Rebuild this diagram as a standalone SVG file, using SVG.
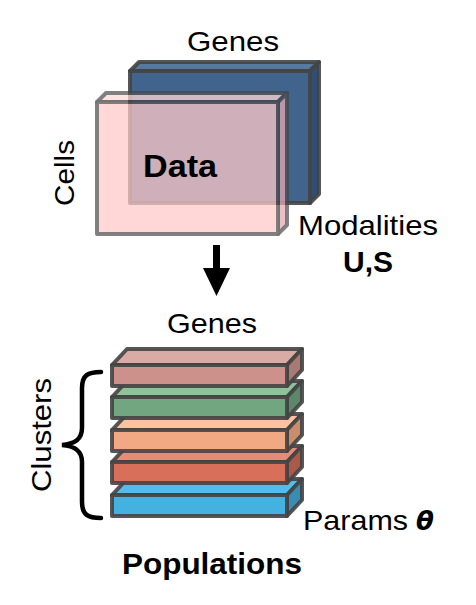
<svg xmlns="http://www.w3.org/2000/svg" width="476" height="605" viewBox="0 0 476 605">
<style>
.t{font-family:"Liberation Sans",Arial,Helvetica,sans-serif;fill:#000}
.b{font-weight:bold}
.box{stroke:#444;stroke-opacity:0.9;stroke-width:4;stroke-linejoin:round}
</style>
<rect width="476" height="605" fill="#fff"/>
<g id="data-block">
  <g id="modality-S">
    <polygon class="box" points="130,71 139,62 319,62 310,71" fill="#56799f"/>
    <polygon class="box" points="310,71 319,62 319,194 310,203" fill="#2f5075"/>
    <rect class="box" x="130" y="71" width="180" height="132" fill="#41648c"/>
  </g>
  <g id="modality-U" opacity="0.74">
    <polygon class="box" points="97,102 106,93 287,93 278,102" fill="#ffd9d9"/>
    <polygon class="box" points="278,102 287,93 287,225 278,234" fill="#e4a9b1"/>
    <rect class="box" x="97" y="102" width="181" height="132" fill="#ffcaca"/>
  </g>
  <text class="t b" x="143" y="177" font-size="32" textLength="74" lengthAdjust="spacingAndGlyphs">Data</text>
</g>
<g id="labels-top">
  <text class="t" x="187" y="51" font-size="28" textLength="92" lengthAdjust="spacingAndGlyphs">Genes</text>
  <text class="t" transform="translate(74,206) rotate(-90)" x="0" y="0" font-size="27" textLength="66" lengthAdjust="spacingAndGlyphs">Cells</text>
  <text class="t" x="298" y="235" font-size="28" textLength="140" lengthAdjust="spacingAndGlyphs">Modalities</text>
  <text class="t b" x="343" y="272" font-size="30" textLength="50" lengthAdjust="spacingAndGlyphs">U,S</text>
</g>
<g id="connectors">
  <line x1="216.5" y1="245" x2="216.5" y2="270" stroke="#000" stroke-width="7"/>
  <polygon points="203,268 230,268 216.5,296" fill="#000"/>
</g>
<g id="populations">
  <g id="cluster-5">
    <polygon class="box" points="112,495 127,479 302,479 287,495" fill="#52bde8"/>
    <polygon class="box" points="287,495 302,479 302,500 287,516" fill="#398db5"/>
    <rect class="box" x="112" y="495" width="175" height="21" fill="#44b1e0"/>
  </g>
  <g id="cluster-4">
    <polygon class="box" points="112,462 127,446 302,446 287,462" fill="#e48b7a"/>
    <polygon class="box" points="287,462 302,446 302,467 287,483" fill="#ab5a4a"/>
    <rect class="box" x="112" y="462" width="175" height="21" fill="#d76f5a"/>
  </g>
  <g id="cluster-3">
    <polygon class="box" points="112,430 127,414 302,414 287,430" fill="#f9c2a0"/>
    <polygon class="box" points="287,430 302,414 302,435 287,451" fill="#c98d6e"/>
    <rect class="box" x="112" y="430" width="175" height="21" fill="#f1a984"/>
  </g>
  <g id="cluster-2">
    <polygon class="box" points="112,397 127,381 302,381 287,397" fill="#8fc299"/>
    <polygon class="box" points="287,397 302,381 302,402 287,418" fill="#5a8868"/>
    <rect class="box" x="112" y="397" width="175" height="21" fill="#72a680"/>
  </g>
  <g id="cluster-1">
    <polygon class="box" points="112,365 127,349 302,349 287,365" fill="#d9aba5"/>
    <polygon class="box" points="287,365 302,349 302,370 287,386" fill="#a97a74"/>
    <rect class="box" x="112" y="365" width="175" height="21" fill="#cc918b"/>
  </g>
</g>
<g id="brace">
  <path d="M101,372 C88,372 82,375 82,388 L82,428 C82,440 74,444 62,445 C74,446 82,450 82,462 L82,502 C82,515 88,518 101,518" fill="none" stroke="#000" stroke-width="4.5" stroke-linecap="round"/>
</g>
<g id="labels-bottom">
  <text class="t" x="167" y="333" font-size="28" textLength="90" lengthAdjust="spacingAndGlyphs">Genes</text>
  <text class="t" transform="translate(51,492) rotate(-90)" x="0" y="0" font-size="28" textLength="114" lengthAdjust="spacingAndGlyphs">Clusters</text>
  <text class="t" x="303" y="530" font-size="28" textLength="105" lengthAdjust="spacingAndGlyphs">Params</text>
  <text x="416" y="530" font-size="26" font-family="'DejaVu Sans',sans-serif" font-weight="bold" font-style="italic">θ</text>
  <text class="t b" x="122" y="574" font-size="30" textLength="180" lengthAdjust="spacingAndGlyphs">Populations</text>
</g>
</svg>
